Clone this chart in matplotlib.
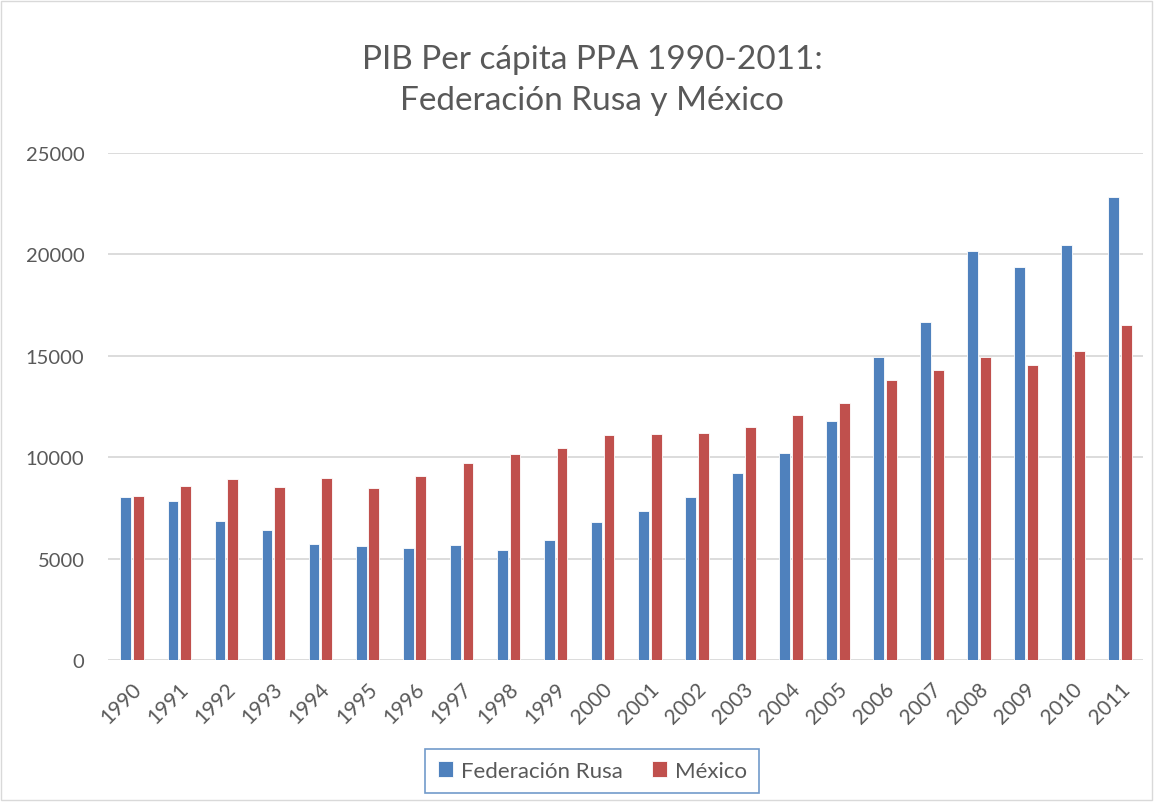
import numpy as np
import matplotlib
matplotlib.use("Agg")
import matplotlib.pyplot as plt
from matplotlib.patches import Rectangle

# data
years = [str(y) for y in range(1990, 2012)]
rusia = [8020, 7840, 6850, 6410, 5700, 5600, 5500, 5670, 5440, 5900, 6800,
         7330, 8020, 9240, 10210, 11810, 14940, 16670, 20170, 19380, 20480, 22810]
mexico = [8070, 8570, 8930, 8530, 8990, 8470, 9060, 9720, 10160, 10450, 11090,
          11140, 11190, 11480, 12090, 12650, 13830, 14310, 14930, 14530, 15230, 16500]

plt.rcParams['font.family'] = ['Lato', 'DejaVu Sans']
gray = '#595959'
blue = '#4F81BD'
red = '#C0504D'

fig = plt.figure(figsize=(11.59, 8.03), dpi=100)
ax = fig.add_axes([0.0932, 0.1768, 0.893, 0.6314])

x = np.arange(len(years))
w = 0.23
ax.bar(x - 0.12, rusia, w, color=blue, edgecolor='white', linewidth=0.6,
       label='Federación Rusa', zorder=3)
ax.bar(x + 0.15, mexico, w, color=red, edgecolor='white', linewidth=0.6,
       label='México', zorder=3)

ax.set_xlim(-0.5, len(years) - 0.5)
ax.set_ylim(0, 25000)
ax.set_yticks(range(0, 25001, 5000))
ax.grid(axis='y', color='#d9d9d9', linewidth=1.3, zorder=0)
for s in ax.spines.values():
    s.set_visible(False)
ax.tick_params(length=0)
ax.tick_params(axis='y', labelsize=14.5, labelcolor=gray, pad=17)
ax.set_xticks(x)
ax.set_xticklabels(years, rotation=45, ha='right', va='top',
                   rotation_mode='anchor', fontsize=15, color=gray)
ax.tick_params(axis='x', pad=13)

fig.text(0.511, 0.9, 'PIB Per cápita PPA 1990-2011:\nFederación Rusa y México',
         ha='center', va='center', fontsize=24, color=gray, linespacing=1.45)

leg = fig.legend(loc='center', bbox_to_anchor=(0.511, 0.0386), ncol=2,
                 fontsize=16, frameon=True, fancybox=False, handlelength=0.7,
                 handleheight=0.7, columnspacing=1.3, handletextpad=0.35,
                 borderpad=0.55, borderaxespad=0)
for t in leg.get_texts():
    t.set_color(gray)
leg.get_frame().set_edgecolor(blue)
leg.get_frame().set_linewidth(1.2)

fig.patches.append(Rectangle((0.001, 0.002), 0.993, 0.995, transform=fig.transFigure,
                             fill=False, edgecolor='#d9d9d9', linewidth=1))

fig.savefig('out.png', dpi=100, facecolor='white')
